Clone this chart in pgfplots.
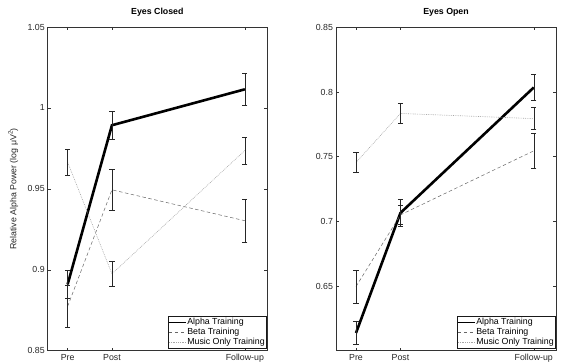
\documentclass[border=0pt]{standalone}
\usepackage{fontspec}
\setmainfont{Liberation Sans}
\usepackage{pgfplots}
\pgfplotsset{compat=1.18}
\begin{document}
\begin{tikzpicture}
\useasboundingbox (0pt,0pt) rectangle (561pt,363pt);
\pgfplotsset{
  myaxis/.style={
    scale only axis,
    xmin=0.55, xmax=5.5,
    xtick={1,2,5}, xticklabels={Pre,Post,Follow-up},
    tick align=inside,
    major tick length=3pt,
    tick style={black!80, line width=0.4pt},
    axis line style={black!80, line width=0.5pt},
    tick label style={font=\fontsize{8.8}{10}\selectfont, text=black!85},
    yticklabel style={xshift=0.5pt},
    /pgf/number format/assume math mode=true,
    title style={font=\fontsize{8.8}{10}\selectfont\bfseries, at={(0.5,1)}, anchor=south, yshift=1pt},
    legend style={font=\fontsize{8.8}{10}\selectfont, draw=black!90, line width=0.6pt,
      at={(axis description cs:0.996,0.006)}, anchor=south east,
      inner xsep=0.5pt, inner ysep=1pt, row sep=0pt,
      nodes={inner xsep=0.6pt, inner ysep=1.1pt}},
    legend cell align=left,
    legend image code/.code={\draw[##1, line width=0.5pt] (0pt,0pt) -- (17.5pt,0pt);},
    error bars/y dir=both, error bars/y explicit,
    error bars/error mark options={rotate=90, mark size=2.6pt, black!85, line width=0.5pt, solid},
    error bars/error bar style={black!85, line width=0.5pt, solid},
  },
  alpha/.style={black, line width=2.6pt},
  beta/.style={black!60, line width=0.5pt, dash pattern=on 3.5pt off 2.5pt},
  music/.style={black!35, line width=0.6pt, dash pattern=on 0.8pt off 1pt},
}
\begin{axis}[myaxis, at={(47.7pt,12.3pt)}, anchor=south west,
  width=219.3pt, height=323.7pt,
  ymin=0.85, ymax=1.05,
  ytick={0.85,0.9,0.95,1,1.05}, yticklabels={0.85,0.9,0.95,1,1.05},
  title={Eyes Closed},
  ylabel={Relative Alpha Power (log μV\textsuperscript{2})},
  ylabel style={font=\fontsize{8.8}{10}\selectfont, text=black!85, at={(axis description cs:-0.118,0.5)}, anchor=south},
]
\addplot[alpha] coordinates {(1,0.891) +- (0,0.0088) (2,0.9893) +- (0,0.0085) (5,1.0115) +- (0,0.0099)};
\addplot[beta] coordinates {(1,0.8774) +- (0,0.0132) (2,0.9494) +- (0,0.0129) (5,0.9303) +- (0,0.0133)};
\addplot[music] coordinates {(1,0.9664) +- (0,0.0078) (2,0.8975) +- (0,0.0079) (5,0.9737) +- (0,0.0083)};
\legend{Alpha Training,Beta Training,Music Only Training}
\end{axis}
\begin{axis}[myaxis, at={(336pt,12.3pt)}, anchor=south west,
  width=220pt, height=323.4pt,
  ymin=0.6, ymax=0.85,
  ytick={0.65,0.7,0.75,0.8,0.85}, yticklabels={0.65,0.7,0.75,0.8,0.85},
  title={Eyes Open},
]
\addplot[alpha] coordinates {(1,0.6137) +- (0,0.0087) (2,0.7065) +- (0,0.0105) (5,0.8035) +- (0,0.0102)};
\addplot[beta] coordinates {(1,0.6496) +- (0,0.0129) (2,0.7050) +- (0,0.0072) (5,0.7545) +- (0,0.0135)};
\addplot[music] coordinates {(1,0.7455) +- (0,0.0076) (2,0.7834) +- (0,0.0076) (5,0.7794) +- (0,0.0085)};
\legend{Alpha Training,Beta Training,Music Only Training}
\end{axis}
\end{tikzpicture}
\end{document}
